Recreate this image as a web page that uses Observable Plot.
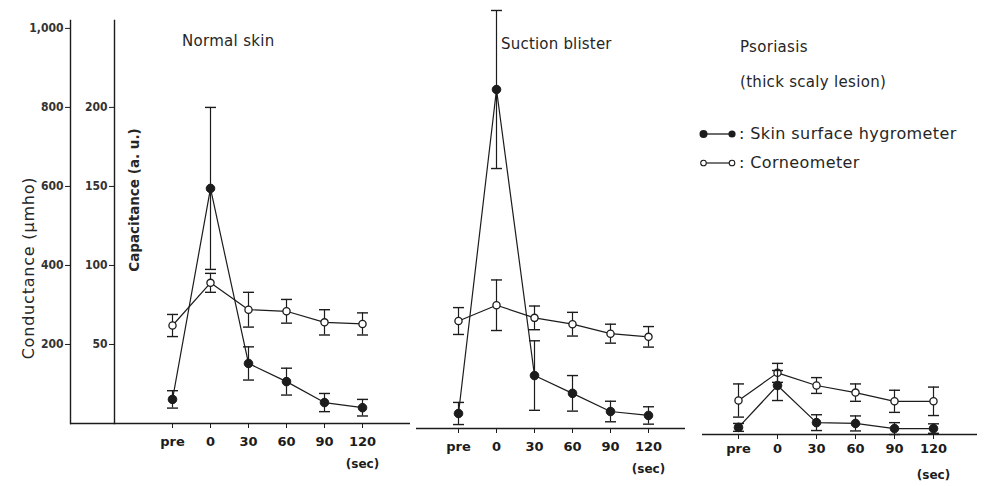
<!DOCTYPE html>
<html><head><meta charset="utf-8">
<script src="https://cdn.jsdelivr.net/npm/d3@7"></script>
<script src="https://cdn.jsdelivr.net/npm/@observablehq/plot@0.6"></script>
<style>
body{margin:0;background:#fff;}
#chart{position:relative;width:984px;height:486px;overflow:hidden;font-family:"DejaVu Sans",sans-serif;color:#262626;}
#chart svg{position:absolute;left:0;top:0;}
.lbl{position:absolute;white-space:nowrap;line-height:1;}
</style></head><body><div id="chart"></div>
<script>
// ---- data ----
const timepoints = ["pre", "0", "30", "60", "90", "120"];
const panels = ["Normal skin", "Suction blister", "Psoriasis"];
const condTicks = [200, 400, 600, 800, 1000];   // Conductance (µmho)
const capTicks = [50, 100, 150, 200];            // Capacitance (a. u.)
const capToCond = 4;                              // 200 a.u. sits at 800 µmho

// Skin surface hygrometer (conductance, µmho): mean and error
const normalHygro      = [61, 595, 152, 106, 53, 40];
const normalHygroErr   = [22, 205, 42, 34, 23, 21];
const blisterHygro     = [38, 858, 134, 89, 43, 33];
const blisterHygroErr  = [28, 200, 88, 45, 26, 22];
const psoriasisHygro   = [18, 124, 30, 28, 15, 15];
const psoriasisHygroErr= [10, 38, 20, 19, 15, 12];
// Corneometer (capacitance, a.u.): mean and error
const normalCorneo      = [62, 89, 72, 71, 64, 63];
const normalCorneoErr   = [7, 6, 11, 7.5, 8, 7];
const blisterCorneo     = [68, 78, 70, 66, 60, 58];
const blisterCorneoErr  = [8.5, 16, 7.5, 7.5, 6, 6.5];
const psoriasisCorneo   = [21.5, 39, 31, 26.5, 21, 21];
const psoriasisCorneoErr= [10.5, 6, 5, 5.5, 7, 9];

const ink = "#1c1c1c";
const rows = (means, errs, k) => means.map((v, i) => ({t: timepoints[i], v: v * k, lo: (v - errs[i]) * k, hi: (v + errs[i]) * k}));
const capSymbol = {draw(ctx, size) { const w = Math.sqrt(size / Math.PI); ctx.moveTo(-w, 0); ctx.lineTo(w, 0); }};

function seriesMarks(data, filled) {
  return [
    Plot.line(data, {x: "t", y: "v", stroke: ink, strokeWidth: 1.2}),
    Plot.ruleX(data, {x: "t", y1: "lo", y2: "hi", stroke: ink, strokeWidth: 1.2}),
    Plot.dot(data, {x: "t", y: "lo", symbol: capSymbol, r: 5.5, fill: "none", stroke: ink, strokeWidth: 1.4}),
    Plot.dot(data, {x: "t", y: "hi", symbol: capSymbol, r: 5.5, fill: "none", stroke: ink, strokeWidth: 1.4}),
    filled
      ? Plot.dot(data, {x: "t", y: "v", r: 4.3, fill: ink, stroke: ink, strokeWidth: 1})
      : Plot.dot(data, {x: "t", y: "v", r: 3.6, fill: "white", stroke: ink, strokeWidth: 1.3})
  ];
}

function panel({hygro, corneo, frameLeft, frameRight, base, xRange, tickPad, extra = []}) {
  return Plot.plot({
    width: 984, height: 486,
    marginLeft: frameLeft, marginRight: 984 - frameRight,
    marginTop: base - 403, marginBottom: 486 - base,
    style: {background: "transparent", overflow: "visible", fontFamily: "DejaVu Sans, sans-serif", color: ink},
    x: {type: "point", domain: timepoints, range: xRange, label: null},
    y: {domain: [0, 1020], label: null, axis: null},
    marks: [
      Plot.ruleY([0], {stroke: ink, strokeWidth: 1.4}),
      Plot.axisX({anchor: "bottom", tickSize: 5, tickPadding: tickPad, fontSize: 13, fontWeight: "bold", stroke: ink}),
      Plot.text(["(sec)"], {x: () => timepoints[timepoints.length - 1], frameAnchor: "bottom", dy: 44, fontSize: 12, fontWeight: "bold", fill: ink}),
      ...extra,
      ...seriesMarks(corneo, false),
      ...seriesMarks(hygro, true)
    ]
  });
}

const chart = document.getElementById("chart");

chart.append(panel({
  hygro: rows(normalHygro, normalHygroErr, 1),
  corneo: rows(normalCorneo, normalCorneoErr, capToCond),
  frameLeft: 70, frameRight: 410, base: 423, xRange: [152, 382], tickPad: 8,
  extra: [
    Plot.frame({anchor: "left", stroke: ink, strokeWidth: 1.4}),
    Plot.axisY({ticks: condTicks, anchor: "left", tickSize: 5, tickPadding: 2, tickFormat: d3.format(","), fontSize: 12, fontWeight: "bold", fontFamily: "DejaVu Sans Condensed, DejaVu Sans, sans-serif", fill: "#333"})
  ]
}));

chart.append(panel({
  hygro: rows(blisterHygro, blisterHygroErr, 1),
  corneo: rows(blisterCorneo, blisterCorneoErr, capToCond),
  frameLeft: 416, frameRight: 685, base: 428, xRange: [439, 667], tickPad: 8
}));

chart.append(panel({
  hygro: rows(psoriasisHygro, psoriasisHygroErr, 1),
  corneo: rows(psoriasisCorneo, psoriasisCorneoErr, capToCond),
  frameLeft: 702, frameRight: 977, base: 434, xRange: [718, 953], tickPad: 4
}));

// Capacitance axis (second y axis)
chart.append(Plot.plot({
  width: 984, height: 486,
  marginLeft: 114, marginRight: 984 - 115, marginTop: 20, marginBottom: 63,
  style: {background: "transparent", overflow: "visible", fontFamily: "DejaVu Sans, sans-serif", color: ink},
  y: {domain: [0, 1020 / capToCond], label: null},
  marks: [
    Plot.frame({anchor: "left", stroke: ink, strokeWidth: 1.4}),
    Plot.axisY({ticks: capTicks, anchor: "left", tickSize: 5, tickPadding: 2, fontSize: 12, fontWeight: "bold", fontFamily: "DejaVu Sans Condensed, DejaVu Sans, sans-serif", fill: "#333"})
  ]
}));

// ---- text: titles, axis titles, legend ----
function label(text, css) {
  const d = document.createElement("div");
  d.className = "lbl";
  d.textContent = text;
  Object.assign(d.style, css);
  chart.append(d);
  return d;
}
label(panels[0], {left: "182px", top: "34px", fontSize: "15px", letterSpacing: "0.3px"});
label(panels[1], {left: "501px", top: "37px", fontSize: "15px", letterSpacing: "0.2px"});
label(panels[2], {left: "740px", top: "40px", fontSize: "15px", letterSpacing: "0.3px"});
label("(thick scaly lesion)", {left: "740px", top: "75px", fontSize: "15px", letterSpacing: "0.3px"});
label("Conductance (\u03bcmho)", {left: "29px", top: "268px", fontSize: "16px", letterSpacing: "0.8px", transform: "translate(-50%,-50%) rotate(-90deg)"});
label("Capacitance (a. u.)", {left: "135px", top: "200px", fontSize: "13.5px", fontWeight: "bold", transform: "translate(-50%,-50%) rotate(-90deg)"});

function legendRow(top, filled, text) {
  const d = document.createElement("div");
  d.className = "lbl";
  Object.assign(d.style, {left: "699px", top: top + "px", fontSize: "16px", letterSpacing: "0.4px", display: "flex", alignItems: "center"});
  const s = filled
    ? `<svg width="38" height="12" style="position:static"><line x1="4" y1="6" x2="33" y2="6" stroke="${ink}" stroke-width="1.3"/><circle cx="4.5" cy="6" r="4" fill="${ink}"/><circle cx="33" cy="6" r="3.6" fill="${ink}"/></svg>`
    : `<svg width="38" height="12" style="position:static"><line x1="4" y1="6" x2="33" y2="6" stroke="${ink}" stroke-width="1.2"/><circle cx="4.5" cy="6" r="2.8" fill="white" stroke="${ink}" stroke-width="1.1"/><circle cx="33" cy="6" r="2.8" fill="white" stroke="${ink}" stroke-width="1.1"/></svg>`;
  d.innerHTML = s + `<span style="margin-left:2px">:&nbsp;${text}</span>`;
  chart.append(d);
}
legendRow(126, true, "Skin surface hygrometer");
legendRow(155, false, "Corneometer");
</script></body></html>
